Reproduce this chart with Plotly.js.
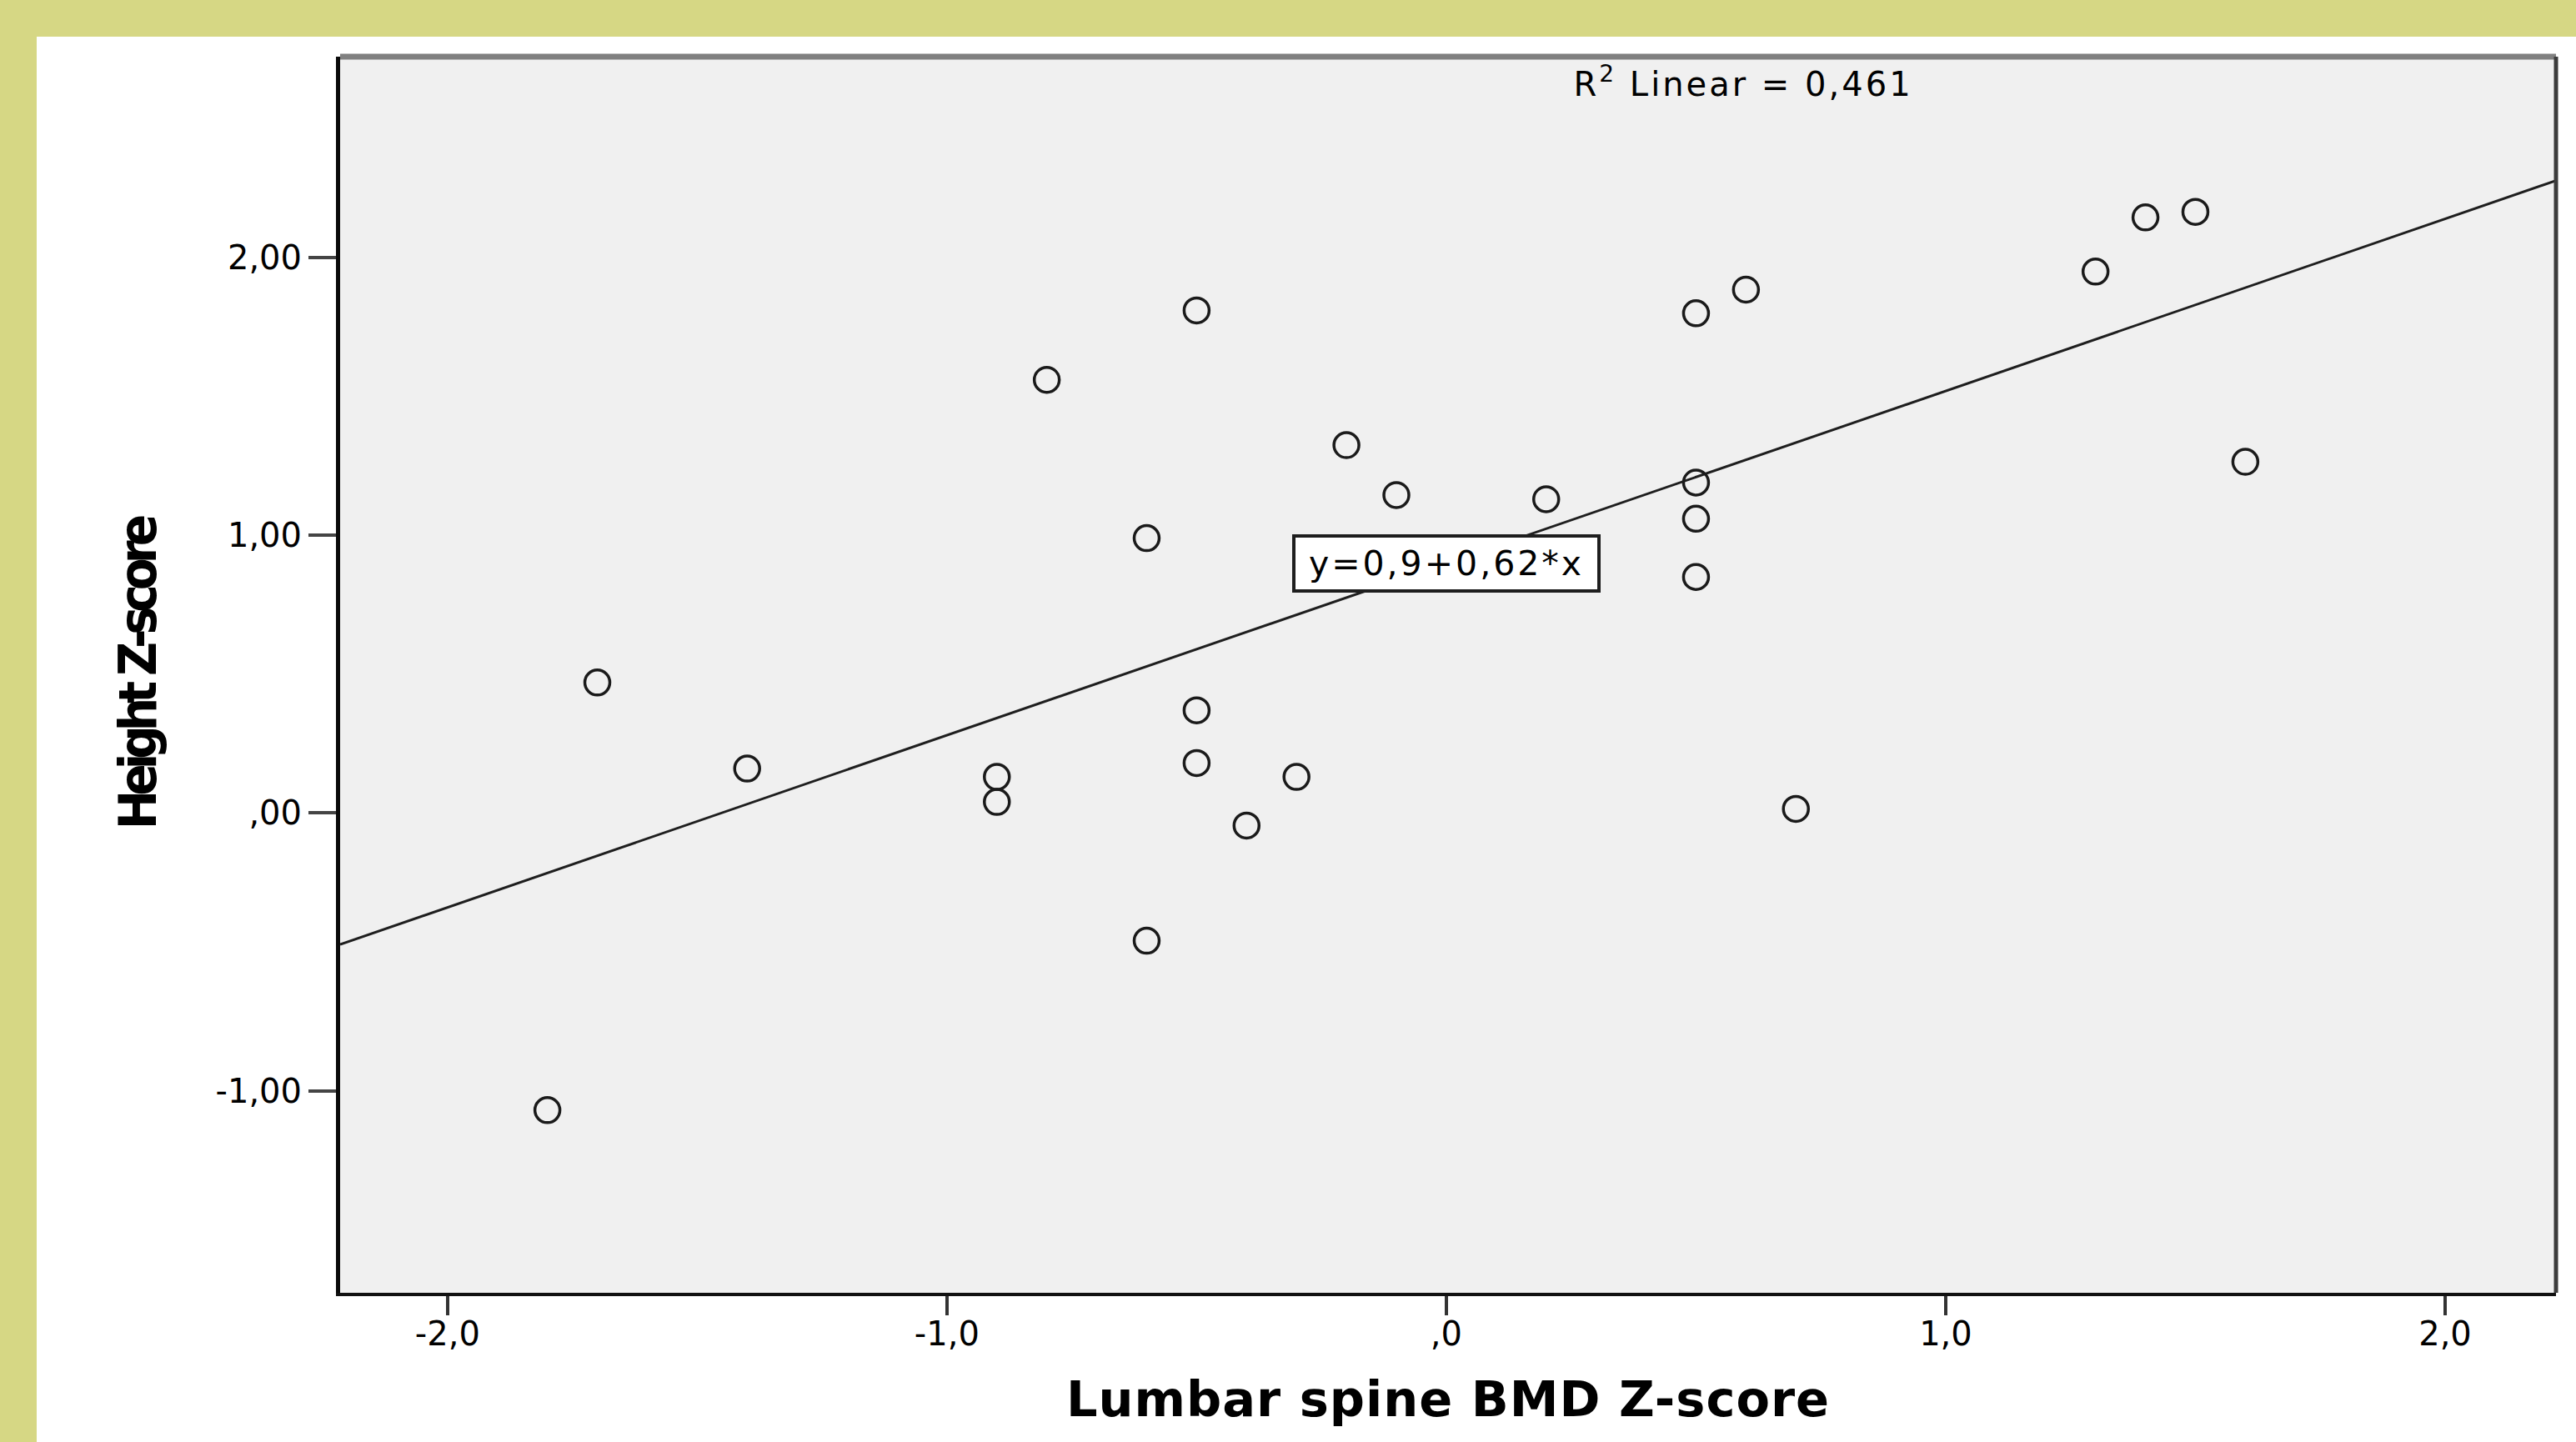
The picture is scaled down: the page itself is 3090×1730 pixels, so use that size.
<!DOCTYPE html>
<html>
<head>
<meta charset="utf-8">
<script src="https://cdn.plot.ly/plotly-3.0.1.min.js"></script>
<style>
  html, body { margin: 0; padding: 0; width: 3090px; height: 1730px; background: #d6d784; overflow: hidden; }
  #chart { position: absolute; left: 44px; top: 44px; width: 3046px; height: 1686px; background: #ffffff; }
  #chart .annotation-text { letter-spacing: 3px; }
  #chart .ytitle { letter-spacing: -7px; }
  #chart .xtitle { letter-spacing: 1px; }
</style>
</head>
<body>
<div id="chart"></div>
<script>
// Data
const lumbarBmdZ = [-1.8, -1.7, -1.4, -0.9, -0.9, -0.8, -0.6, -0.6, -0.5, -0.5, -0.5, -0.4, -0.3, -0.2, -0.1, 0.2, 0.5, 0.5, 0.5, 0.5, 0.6, 0.7, 1.3, 1.4, 1.5, 1.6];
const heightZ    = [-1.07, 0.47, 0.16, 0.13, 0.04, 1.56, 0.99, -0.46, 1.81, 0.37, 0.18, -0.045, 0.13, 1.325, 1.145, 1.13, 1.80, 1.19, 1.06, 0.85, 1.885, 0.015, 1.95, 2.145, 2.165, 1.265];

// Linear fit reported on the chart
const fitIntercept = 0.9;
const fitSlope = 0.62;
const rSquared = "0,461";

// Axes
const xRange = [-2.215, 2.222];
const yRange = [-1.728, 2.724];
const xTickVals = [-2, -1, 0, 1, 2];
const xTickText = ["-2,0", "-1,0", ",0", "1,0", "2,0"];
const yTickVals = [-1, 0, 1, 2];
const yTickText = ["-1,00", ",00", "1,00", "2,00"];

const fitX = xRange.slice();
const fitY = fitX.map(x => fitIntercept + fitSlope * x);

const FONT = "DejaVu Sans, Liberation Sans, Arial, sans-serif";

const traces = [
  {
    x: fitX, y: fitY, type: "scatter", mode: "lines",
    line: { color: "#1e1e1e", width: 3 },
    hoverinfo: "skip", showlegend: false
  },
  {
    x: lumbarBmdZ, y: heightZ, type: "scatter", mode: "markers",
    marker: { symbol: "circle-open", size: 30, color: "#1a1a1a", line: { width: 3.5, color: "#1a1a1a" } },
    showlegend: false
  }
];

const layout = {
  width: 3046, height: 1686,
  margin: { l: 364, r: 24, t: 24, b: 179, pad: 0 },
  paper_bgcolor: "#ffffff",
  plot_bgcolor: "#f0f0f0",
  showlegend: false,
  font: { family: FONT, color: "#000000" },
  xaxis: {
    range: xRange, autorange: false,
    tickmode: "array", tickvals: xTickVals, ticktext: xTickText,
    ticks: "outside", ticklen: 23, tickwidth: 4, tickcolor: "#333333",
    ticklabelstandoff: -12,
    tickfont: { family: FONT, size: 40, color: "#000000" },
    showgrid: false, zeroline: false,
    showline: true, linecolor: "#111111", linewidth: 4,
    title: { text: "Lumbar spine BMD Z-score", font: { family: FONT, size: 59, weight: "bold", color: "#000000" }, standoff: 37 }
  },
  yaxis: {
    range: yRange, autorange: false,
    tickmode: "array", tickvals: yTickVals, ticktext: yTickText,
    ticks: "outside", ticklen: 33, tickwidth: 4, tickcolor: "#444444",
    tickfont: { family: FONT, size: 40, color: "#000000" },
    showgrid: false, zeroline: false,
    showline: true, linecolor: "#0a0a0a", linewidth: 5,
    title: { text: "Height Z-score", font: { family: "Liberation Sans Narrow, DejaVu Sans Condensed, Arial Narrow, sans-serif", size: 63, weight: "bold", color: "#000000" }, standoff: 52 }
  },
  shapes: [
    { type: "line", xref: "paper", yref: "paper", x0: 0, x1: 1, y0: 1, y1: 1, line: { color: "#808080", width: 7 } },
    { type: "line", xref: "paper", yref: "paper", x0: 1, x1: 1, y0: 0, y1: 1, line: { color: "#3c3c3c", width: 5 } }
  ],
  annotations: [
    {
      xref: "paper", yref: "paper", x: 0.633, y: 0.98, xanchor: "center", yanchor: "middle",
      text: "R<sup>2</sup> Linear = " + rSquared, showarrow: false,
      font: { family: FONT, size: 40, color: "#000000" }
    },
    {
      xref: "x", yref: "y", x: 0, y: fitIntercept, xanchor: "center", yanchor: "middle",
      text: "y=0,9+0,62*x", showarrow: false,
      font: { family: FONT, size: 41, color: "#000000" },
      bgcolor: "#ffffff", bordercolor: "#1e1e1e", borderwidth: 4, borderpad: 0,
      width: 362, height: 62
    }
  ]
};

Plotly.newPlot("chart", traces, layout, { displayModeBar: false, staticPlot: true });
</script>
</body>
</html>
